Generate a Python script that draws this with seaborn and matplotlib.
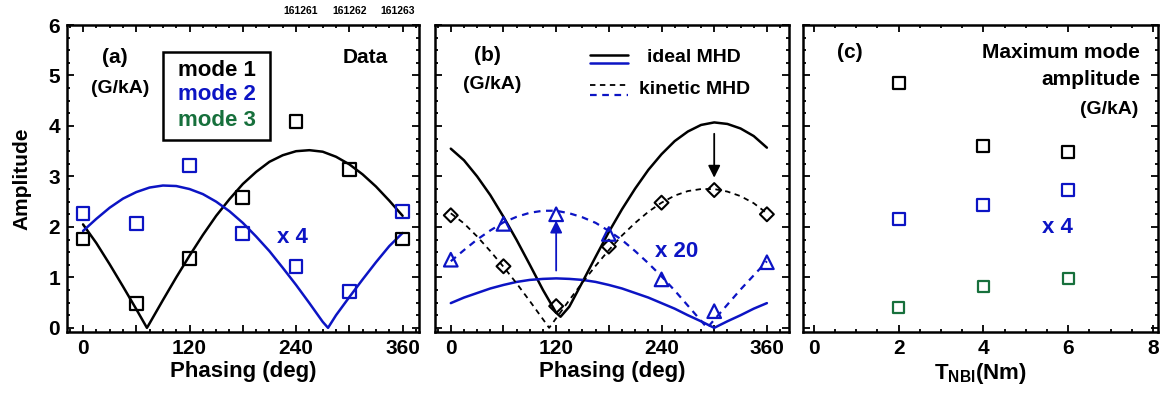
import numpy as np
import matplotlib.pyplot as plt
import seaborn as sns
from matplotlib.patches import Rectangle
from matplotlib.ticker import MultipleLocator

sns.set_style('ticks')
plt.rcParams['font.family'] = ['Liberation Sans', 'DejaVu Sans']
plt.rcParams['font.weight'] = 'bold'
plt.rcParams['axes.labelweight'] = 'bold'
plt.rcParams['mathtext.fontset'] = 'custom'
plt.rcParams['mathtext.bf'] = 'Liberation Sans:bold'
for key in ['text.color', 'axes.labelcolor', 'xtick.color', 'ytick.color', 'axes.edgecolor']:
    plt.rcParams[key] = 'black'

BLACK = '#000000'
BLUE = '#0c14c4'
GREEN = '#17703c'

# ---- panel (a): measured mode amplitudes vs phasing ----
phase_pts = [0, 60, 120, 180, 240, 300, 360]
a_mode1_pts = [1.76, 0.48, 1.38, 2.59, 4.09, 3.14, 1.76]
a_mode2_pts = [2.26, 2.06, 3.21, 1.87, 1.22, 0.72, 2.31]

a_mode1_fit_x = [0, 15, 30, 45, 60, 72, 75, 90, 105, 120, 135, 150, 165, 180, 195,
                 210, 225, 240, 255, 270, 285, 300, 315, 330, 345, 360]
a_mode1_fit_y = [2.05, 1.68, 1.26, 0.82, 0.37, 0.0, 0.09, 0.55, 1.00, 1.43, 1.84, 2.22,
                 2.55, 2.85, 3.09, 3.29, 3.42, 3.50, 3.52, 3.49, 3.39, 3.24, 3.04,
                 2.80, 2.52, 2.22]
a_mode2_fit_x = [0, 15, 30, 45, 60, 75, 90, 105, 120, 135, 150, 165, 180, 195, 210,
                 225, 240, 255, 270, 276, 285, 300, 315, 330, 345, 360]
a_mode2_fit_y = [1.92, 2.16, 2.38, 2.56, 2.69, 2.78, 2.82, 2.81, 2.75, 2.65, 2.50,
                 2.31, 2.08, 1.81, 1.52, 1.19, 0.85, 0.49, 0.12, 0.0, 0.25, 0.61,
                 0.96, 1.30, 1.62, 1.88]

# ---- panel (b): ideal / kinetic MHD calculations ----
b_ideal1_x = [0, 15, 30, 45, 60, 75, 90, 105, 120, 125, 135, 150, 165, 180, 195, 210,
              225, 240, 255, 270, 285, 300, 315, 330, 345, 360]
b_ideal1_y = [3.55, 3.32, 3.00, 2.63, 2.20, 1.74, 1.25, 0.75, 0.30, 0.22, 0.42, 0.91,
              1.41, 1.90, 2.35, 2.76, 3.13, 3.44, 3.70, 3.89, 4.02, 4.07, 4.04, 3.95,
              3.80, 3.57]
b_ideal2_x = [0, 15, 30, 45, 60, 75, 90, 105, 120, 135, 150, 165, 180, 195, 210, 225,
              240, 255, 270, 285, 300, 315, 330, 345, 360]
b_ideal2_y = [0.49, 0.60, 0.69, 0.78, 0.85, 0.91, 0.95, 0.97, 0.98, 0.97, 0.95, 0.91,
              0.85, 0.78, 0.69, 0.60, 0.49, 0.38, 0.25, 0.13, 0.0, 0.13, 0.25, 0.38, 0.49]
b_kin1_x = [0, 15, 30, 45, 60, 75, 90, 105, 112, 120, 135, 150, 165, 180, 195, 210,
            225, 240, 255, 270, 285, 300, 315, 330, 345, 360]
b_kin1_y = [2.27, 2.07, 1.81, 1.52, 1.21, 0.88, 0.53, 0.17, 0.0, 0.19, 0.55, 0.90,
            1.23, 1.54, 1.83, 2.08, 2.30, 2.48, 2.62, 2.71, 2.75, 2.75, 2.70, 2.61,
            2.47, 2.27]
b_kin2_x = [0, 15, 30, 45, 60, 75, 90, 105, 120, 135, 150, 165, 180, 195, 210, 225,
            240, 255, 270, 285, 292, 300, 315, 330, 345, 360]
b_kin2_y = [1.32, 1.54, 1.75, 1.93, 2.09, 2.20, 2.28, 2.32, 2.32, 2.27, 2.19, 2.08,
            1.92, 1.74, 1.52, 1.28, 1.02, 0.74, 0.44, 0.14, 0.0, 0.16, 0.46, 0.76,
            1.04, 1.32]
b_kin1_pts = [2.23, 1.22, 0.43, 1.61, 2.48, 2.73, 2.25]
b_kin2_pts = [1.35, 2.06, 2.25, 1.86, 0.96, 0.33, 1.30]

# ---- panel (c): maximum amplitude vs NBI torque ----
tnbi = [2, 4, 6]
c_mode1 = [4.86, 3.61, 3.49]
c_mode2 = [2.15, 2.44, 2.73]
c_mode3 = [0.40, 0.82, 0.98]

fig = plt.figure(figsize=(11.64, 3.97), dpi=100)
ax_a = fig.add_axes([0.0576, 0.164, 0.302, 0.773])
ax_b = fig.add_axes([0.3737, 0.164, 0.304, 0.773])
ax_c = fig.add_axes([0.690, 0.164, 0.305, 0.773])


def style_axis(ax, xmaj, xmin):
    ax.set_ylim(-0.08, 6.0)
    ax.yaxis.set_major_locator(MultipleLocator(1))
    ax.yaxis.set_minor_locator(MultipleLocator(0.25))
    ax.xaxis.set_major_locator(MultipleLocator(xmaj))
    ax.xaxis.set_minor_locator(MultipleLocator(xmin))
    ax.tick_params(which='both', direction='in', top=True, right=True, width=1.3,
                   labelsize=15, pad=5)
    ax.tick_params(which='major', length=5)
    ax.tick_params(which='minor', length=2.5)
    for s in ax.spines.values():
        s.set_linewidth(1.8)
        s.set_visible(True)


def squares(ax, x, y, c, s=85):
    sns.scatterplot(x=x, y=y, ax=ax, marker='s', s=s, facecolor='none',
                    edgecolor=c, linewidth=1.6, zorder=4)


# panel (a)
style_axis(ax_a, 60, 15)
ax_a.set_xlim(-18, 378)
sns.lineplot(x=a_mode1_fit_x, y=a_mode1_fit_y, ax=ax_a, color=BLACK, lw=1.8, sort=False, estimator=None)
sns.lineplot(x=a_mode2_fit_x, y=a_mode2_fit_y, ax=ax_a, color=BLUE, lw=1.8, sort=False, estimator=None)
squares(ax_a, phase_pts, a_mode1_pts, BLACK)
squares(ax_a, phase_pts, a_mode2_pts, BLUE)
ax_a.set_xticks([0, 60, 120, 180, 240, 300, 360])
ax_a.set_xticklabels(['0', '', '120', '', '240', '', '360'])
ax_a.set_xlabel('Phasing (deg)', fontsize=16, labelpad=2)
ax_a.set_ylabel('Amplitude', fontsize=15, labelpad=12)
ax_a.text(0.136, 0.893, '(a)', transform=ax_a.transAxes, ha='center', va='center', fontsize=15)
ax_a.text(0.151, 0.792, '(G/kA)', transform=ax_a.transAxes, ha='center', va='center', fontsize=14)
ax_a.text(0.847, 0.893, 'Data', transform=ax_a.transAxes, ha='center', va='center', fontsize=15)
ax_a.text(0.642, 0.309, 'x 4', transform=ax_a.transAxes, ha='center', va='center', fontsize=16, color=BLUE)
ax_a.add_patch(Rectangle((0.273, 0.625), 0.304, 0.287, transform=ax_a.transAxes,
                         fill=False, edgecolor=BLACK, lw=1.8, zorder=5))
for yy, lab, c in [(0.853, 'mode 1', BLACK), (0.772, 'mode 2', BLUE), (0.690, 'mode 3', GREEN)]:
    ax_a.text(0.425, yy, lab, transform=ax_a.transAxes, ha='center', va='center', fontsize=16, color=c)
for xx, lab in [(0.258, '161261'), (0.3007, '161262'), (0.342, '161263')]:
    fig.text(xx, 0.972, lab, ha='center', va='center', fontsize=7.5)

# panel (b)
style_axis(ax_b, 60, 15)
ax_b.set_xlim(-18, 385)
sns.lineplot(x=b_ideal1_x, y=b_ideal1_y, ax=ax_b, color=BLACK, lw=1.8, sort=False, estimator=None)
sns.lineplot(x=b_ideal2_x, y=b_ideal2_y, ax=ax_b, color=BLUE, lw=1.8, sort=False, estimator=None)
sns.lineplot(x=b_kin1_x, y=b_kin1_y, ax=ax_b, color=BLACK, lw=1.3, sort=False, estimator=None, linestyle=(0, (3, 2.5)))
sns.lineplot(x=b_kin2_x, y=b_kin2_y, ax=ax_b, color=BLUE, lw=1.6, sort=False, estimator=None, linestyle=(0, (3, 2.5)))
sns.scatterplot(x=phase_pts, y=b_kin1_pts, ax=ax_b, marker='D', s=50, facecolor='none',
                edgecolor=BLACK, linewidth=1.5, zorder=4)
sns.scatterplot(x=phase_pts, y=b_kin2_pts, ax=ax_b, marker='^', s=95, facecolor='none',
                edgecolor=BLUE, linewidth=1.6, zorder=4)
ax_b.annotate('', xy=(300, 2.92), xytext=(300, 3.9),
              arrowprops=dict(arrowstyle='-|>', color=BLACK, lw=1.3, mutation_scale=18))
ax_b.annotate('', xy=(120, 2.18), xytext=(120, 1.08),
              arrowprops=dict(arrowstyle='-|>', color=BLUE, lw=1.3, mutation_scale=18))
ax_b.set_xticks([0, 60, 120, 180, 240, 300, 360])
ax_b.set_xticklabels(['0', '', '120', '', '240', '', '360'])
ax_b.set_yticklabels([])
ax_b.set_xlabel('Phasing (deg)', fontsize=16, labelpad=2)
ax_b.text(0.147, 0.902, '(b)', transform=ax_b.transAxes, ha='center', va='center', fontsize=15)
ax_b.text(0.161, 0.805, '(G/kA)', transform=ax_b.transAxes, ha='center', va='center', fontsize=14)
ax_b.text(0.684, 0.261, 'x 20', transform=ax_b.transAxes, ha='center', va='center', fontsize=16, color=BLUE)
ax_b.plot([0.438, 0.545], [0.903, 0.903], transform=ax_b.transAxes, color=BLACK, lw=1.8)
ax_b.plot([0.438, 0.545], [0.876, 0.876], transform=ax_b.transAxes, color=BLUE, lw=1.8)
ax_b.plot([0.438, 0.545], [0.805, 0.805], transform=ax_b.transAxes, color=BLACK, lw=1.3, ls=(0, (3, 2.5)))
ax_b.plot([0.438, 0.545], [0.772, 0.772], transform=ax_b.transAxes, color=BLUE, lw=1.6, ls=(0, (3, 2.5)))
ax_b.text(0.599, 0.893, 'ideal MHD', transform=ax_b.transAxes, ha='left', va='center', fontsize=14)
ax_b.text(0.576, 0.790, 'kinetic MHD', transform=ax_b.transAxes, ha='left', va='center', fontsize=14)

# panel (c)
style_axis(ax_c, 2, 0.5)
ax_c.set_xlim(-0.25, 8.12)
squares(ax_c, tnbi, c_mode1, BLACK, s=75)
squares(ax_c, tnbi, c_mode2, BLUE, s=75)
squares(ax_c, tnbi, c_mode3, GREEN, s=60)
ax_c.set_yticklabels([])
ax_c.set_xlabel(r'T$_{\mathbf{NBI}}$(Nm)', fontsize=16, labelpad=2)
ax_c.text(0.132, 0.909, '(c)', transform=ax_c.transAxes, ha='center', va='center', fontsize=15)
ax_c.text(0.949, 0.912, 'Maximum mode', transform=ax_c.transAxes, ha='right', va='center', fontsize=15)
ax_c.text(0.949, 0.824, 'amplitude', transform=ax_c.transAxes, ha='right', va='center', fontsize=15)
ax_c.text(0.944, 0.726, '(G/kA)', transform=ax_c.transAxes, ha='right', va='center', fontsize=14)
ax_c.text(0.715, 0.339, 'x 4', transform=ax_c.transAxes, ha='center', va='center', fontsize=16, color=BLUE)

for ax in (ax_a, ax_b, ax_c):
    if ax.get_legend() is not None:
        ax.get_legend().remove()

fig.savefig('out.png', dpi=100)
